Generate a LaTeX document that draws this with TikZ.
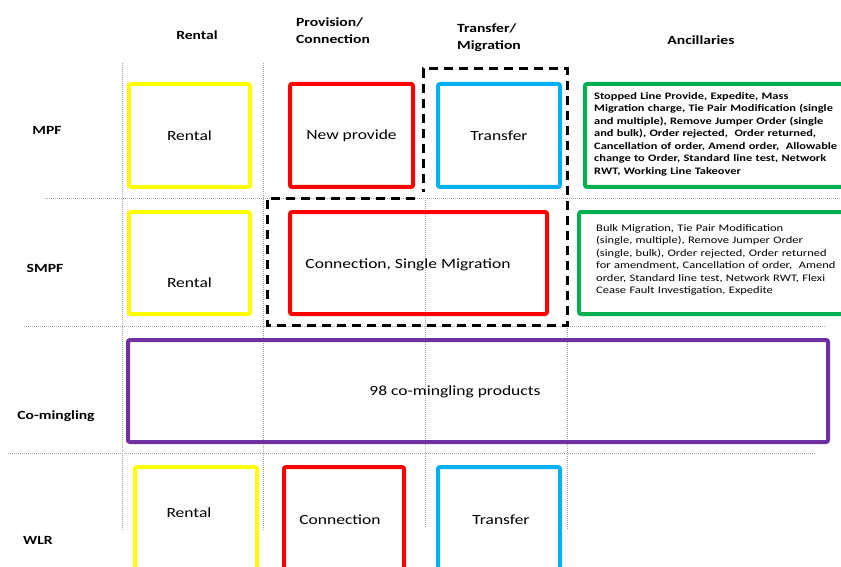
\documentclass[tikz,border=0pt]{standalone}
\usepackage{fontspec}
\setmainfont{Carlito}[FakeStretch=1.25]
\definecolor{cyellow}{RGB}{255,255,0}
\definecolor{cred}{RGB}{255,0,0}
\definecolor{cblue}{RGB}{0,176,240}
\definecolor{cgreen}{RGB}{0,176,80}
\definecolor{cpurple}{RGB}{112,48,160}
\begin{document}
\begin{tikzpicture}[x=1pt, y=-1pt,
  box/.style={draw, line width=4pt, rounded corners=2pt, inner sep=0pt, font=\fontsize{14}{16}\selectfont},
  lbl/.style={font=\fontsize{14}{16}\selectfont},
  head/.style={font=\bfseries\fontsize{12.5}{17}\selectfont, align=left},
  grid/.style={gray!70, line width=0.7pt, dash pattern=on 1pt off 1pt},
  anctext/.style={anchor=west, align=left, inner sep=0pt, text width=250pt, font=\fontsize{10}{12.5}\selectfont}]
\useasboundingbox (0,0) rectangle (841,567);
\clip (0,0) rectangle (841,567);

% grid
\draw[grid] (122,63) -- (122,530);
\draw[grid] (263,63) -- (263,530);
\draw[grid] (425,198) -- (425,528);
\draw[grid] (567,326) -- (567,530);
\draw[grid] (45,198) -- (841,198);
\draw[grid] (24,326) -- (826,326);
\draw[grid] (8,453) -- (815,453);

% headers
\node[head] (hrent) at (197,35) {Rental};
\node[head] (hprov) at (333,31) {Provision/\\Connection};
\node[head] (htran) at (489,38) {Transfer/\\Migration};
\node[head] (hanc) at (701,40) {Ancillaries};

% rows
\node[head] (rmpf) at (47,130) {MPF};
\node[head] (rsmpf) at (45,268) {SMPF};
\node[head] (rco) at (56,416) {Co-mingling};
\node[head] (rwlr) at (38,540) {WLR};

% dashed group
\draw[line width=3pt, dash pattern=on 9pt off 6pt]
  (415,198) -- (267,198) -- (267,325) -- (567,325) -- (567,69) -- (423,69) -- (423,192);

% MPF
\node[box, draw=cyellow, minimum width=121pt, minimum height=103pt] (mrent) at (189.5,135.5) {Rental};
\node[box, draw=cred, minimum width=123pt, minimum height=103pt] (mprov) at (351.5,135.5) {New provide};
\node[box, draw=cblue, minimum width=122pt, minimum height=103pt] (mtran) at (499,135.5) {Transfer};
\node[box, draw=cgreen, minimum width=258pt, minimum height=103pt] (manc) at (714,135.5) {};
\node[anctext, font=\bfseries\fontsize{9.9}{12.5}\selectfont] (manct) at (594,134)
  {Stopped Line Provide, Expedite, Mass\\
   Migration charge, Tie Pair Modification (single\\
   and multiple), Remove Jumper Order (single\\
   and bulk), Order rejected,~ Order returned,\\
   Cancellation of order, Amend order,~ Allowable\\
   change to Order, Standard line test, Network\\
   RWT, Working Line Takeover};

% SMPF
\node[box, draw=cyellow, minimum width=121pt, minimum height=102pt] (srent) at (189.5,263) {};
\node[lbl] (srentl) at (189.5,283) {Rental};
\node[box, draw=cred, minimum width=257pt, minimum height=102pt] (sconn) at (418.5,263) {};
\node[lbl] (sconnl) at (408,265) {Connection, Single Migration};
\node[box, draw=cgreen, minimum width=264pt, minimum height=102pt] (sanc) at (711,263) {};
\node[anctext] (sanct) at (596,260)
  {Bulk Migration, Tie Pair Modification\\
   (single, multiple), Remove Jumper Order\\
   (single, bulk), Order rejected, Order returned\\
   for amendment, Cancellation of order,~ Amend\\
   order, Standard line test, Network RWT, Flexi\\
   Cease Fault Investigation, Expedite};

% Co-mingling
\node[box, draw=cpurple, minimum width=700pt, minimum height=102pt] (cprod) at (478,391) {};
\node[lbl] (cprodl) at (455,392) {98 co-mingling products};

% WLR
\node[box, draw=cyellow, minimum width=122pt, minimum height=120pt] (wrent) at (196,527) {};
\node[lbl] (wrentl) at (189,513) {Rental};
\node[box, draw=cred, minimum width=120pt, minimum height=120pt] (wconn) at (344,527) {};
\node[lbl] (wconnl) at (340,520) {Connection};
\node[box, draw=cblue, minimum width=122pt, minimum height=120pt] (wtran) at (499,527) {};
\node[lbl] (wtranl) at (501,520) {Transfer};
\end{tikzpicture}
\end{document}
